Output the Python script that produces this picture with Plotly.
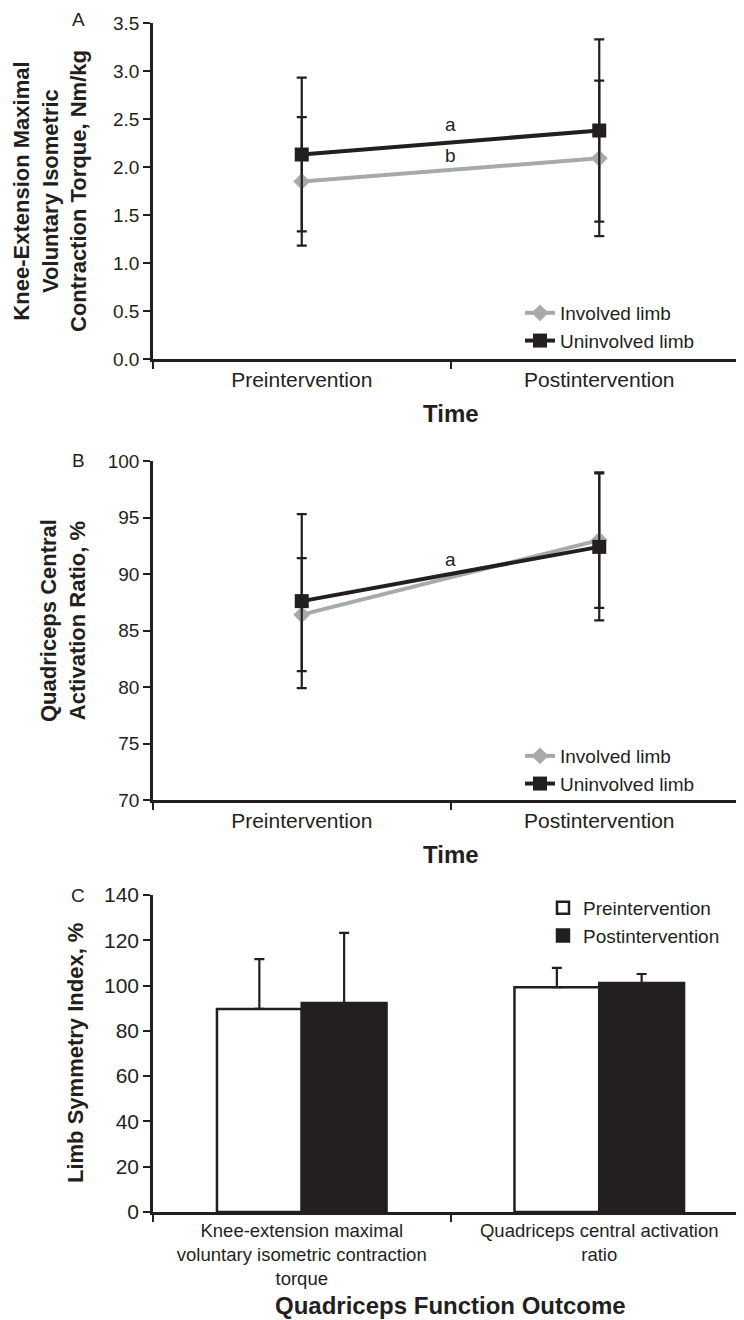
import plotly.graph_objects as go

# ---------------- data ----------------
time_points = ["Preintervention", "Postintervention"]

mvic_involved = [1.85, 2.09]
mvic_involved_sd = [0.67, 0.81]
mvic_uninvolved = [2.13, 2.38]
mvic_uninvolved_sd = [0.80, 0.95]

car_involved = [86.4, 93.0]
car_involved_sd = [5.0, 6.0]
car_uninvolved = [87.6, 92.4]
car_uninvolved_sd = [7.7, 6.5]

outcomes = ["Knee-extension maximal<br>voluntary isometric contraction<br>torque",
            "Quadriceps central activation<br>ratio"]
lsi_pre = [89.7, 99.3]
lsi_pre_sd = [22.0, 8.5]
lsi_post = [92.3, 101.1]
lsi_post_sd = [31.0, 4.0]

# ---------------- style ----------------
W, H = 744, 1320
BLACK = "#231F20"
GRAY = "#A7A9AC"
REG = "Liberation Sans, Arial, sans-serif"
NARROW = "Liberation Sans Narrow, Arial Narrow, Liberation Sans, sans-serif"

def px(x):
    return x / W

def py(y):
    return 1 - y / H

X0, X1 = 145, 740
xdom = [px(X0), px(X1)]
domA = [py(351), py(15)]
domB = [py(792), py(453)]
domC = [py(1204), py(887)]

fig = go.Figure()

def line_trace(y, sd, name, color, symbol, size, xa, ya, legend):
    return go.Scatter(
        x=time_points, y=y, name=name, mode="lines+markers",
        line=dict(color=color, width=4),
        marker=dict(symbol=symbol, size=size, color=color),
        error_y=dict(type="data", array=sd, visible=True, color=BLACK,
                     thickness=2.2, width=5),
        xaxis=xa, yaxis=ya, legend=legend, cliponaxis=False,
    )

# Panel A
fig.add_trace(line_trace(mvic_involved, mvic_involved_sd, "Involved limb", GRAY,
                         "diamond", 13, "x", "y", "legend"))
fig.add_trace(line_trace(mvic_uninvolved, mvic_uninvolved_sd, "Uninvolved limb", BLACK,
                         "square", 14, "x", "y", "legend"))
# Panel B
fig.add_trace(line_trace(car_involved, car_involved_sd, "Involved limb", GRAY,
                         "diamond", 13, "x2", "y2", "legend2"))
fig.add_trace(line_trace(car_uninvolved, car_uninvolved_sd, "Uninvolved limb", BLACK,
                         "square", 14, "x2", "y2", "legend2"))
# Panel C
fig.add_trace(go.Bar(
    x=outcomes, y=lsi_pre, name="Preintervention",
    marker=dict(color="white", line=dict(color=BLACK, width=2.5)),
    error_y=dict(type="data", symmetric=False, array=lsi_pre_sd,
                 arrayminus=[0, 0], color=BLACK, thickness=2.2, width=5),
    xaxis="x3", yaxis="y3", legend="legend3",
))
fig.add_trace(go.Bar(
    x=outcomes, y=lsi_post, name="Postintervention",
    marker=dict(color=BLACK, line=dict(color=BLACK, width=2.5)),
    error_y=dict(type="data", symmetric=False, array=lsi_post_sd,
                 arrayminus=[0, 0], color=BLACK, thickness=2.2, width=5),
    xaxis="x3", yaxis="y3", legend="legend3",
))

def xaxis_cfg(anchor, font):
    return dict(domain=xdom, anchor=anchor, type="category", range=[-0.5, 1.5],
                showline=True, linecolor=BLACK, linewidth=2.5,
                ticks="outside", tickson="boundaries", ticklen=7, tickwidth=2,
                tickcolor=BLACK, showgrid=False, zeroline=False,
                tickfont=font, automargin=False)

def yaxis_cfg(anchor, dom, rng, dtick, fmt, font):
    return dict(domain=dom, anchor=anchor, range=rng, dtick=dtick, tickformat=fmt,
                showline=True, linecolor=BLACK, linewidth=2.5,
                ticks="outside", ticklen=7, tickwidth=2, tickcolor=BLACK,
                showgrid=False, zeroline=False, tickfont=font, automargin=False)

cat_font = dict(family=NARROW, size=21, color=BLACK)
tick_font = dict(family=REG, size=19, color=BLACK)
leg_font = dict(family=NARROW, size=19, color=BLACK)

fig.update_layout(
    width=W, height=H, margin=dict(l=0, r=0, t=0, b=0),
    paper_bgcolor="white", plot_bgcolor="white",
    barmode="group", bargap=0.43, bargroupgap=0,
    xaxis=xaxis_cfg("y", cat_font),
    yaxis=yaxis_cfg("x", domA, [0, 3.5], 0.5, ".1f", tick_font),
    xaxis2=xaxis_cfg("y2", cat_font),
    yaxis2=yaxis_cfg("x2", domB, [70, 100], 5, "d", tick_font),
    xaxis3=xaxis_cfg("y3", dict(family=NARROW, size=18.5, color=BLACK)),
    yaxis3=yaxis_cfg("x3", domC, [0, 140], 20, "d",
                     dict(family=NARROW, size=21, color=BLACK)),
    legend=dict(x=px(512), y=py(286), xanchor="left", yanchor="top",
                bgcolor="rgba(0,0,0,0)", font=leg_font,
                itemwidth=30, tracegroupgap=0),
    legend2=dict(x=px(512), y=py(729), xanchor="left", yanchor="top",
                 bgcolor="rgba(0,0,0,0)", font=leg_font,
                 itemwidth=30, tracegroupgap=0),
    legend3=dict(x=px(535), y=py(881), xanchor="left", yanchor="top",
                 bgcolor="rgba(0,0,0,0)", font=leg_font,
                 itemwidth=30, tracegroupgap=0),
    showlegend=True,
)

ann = []
# panel letters
for letter, y in (("A", 12), ("B", 452), ("C", 887)):
    ann.append(dict(text=letter, x=px(70), y=py(y), xref="paper", yref="paper",
                    showarrow=False, xanchor="center", yanchor="middle",
                    font=dict(family=REG, size=19, color=BLACK)))
# y-axis titles
ytitle_font = dict(family=REG, size=22, color=BLACK)
ann.append(dict(text="<b>Knee-Extension Maximal<br>Voluntary Isometric<br>Contraction Torque, Nm/kg</b>",
                x=px(42), y=py(183), xref="paper", yref="paper", textangle=-90,
                showarrow=False, xanchor="center", yanchor="middle", font=ytitle_font))
ann.append(dict(text="<b>Quadriceps Central<br>Activation Ratio, %</b>",
                x=px(55), y=py(613), xref="paper", yref="paper", textangle=-90,
                showarrow=False, xanchor="center", yanchor="middle", font=ytitle_font))
ann.append(dict(text="<b>Limb Symmetry Index, %</b>",
                x=px(67), y=py(1045), xref="paper", yref="paper", textangle=-90,
                showarrow=False, xanchor="center", yanchor="middle", font=ytitle_font))
# x-axis titles
xtitle_font = dict(family=NARROW, size=24, color=BLACK)
for txt, y in (("<b>Time</b>", 405), ("<b>Time</b>", 846),
               ("<b>Quadriceps Function Outcome</b>", 1297)):
    ann.append(dict(text=txt, x=px((X0 + X1) / 2), y=py(y), xref="paper", yref="paper",
                    showarrow=False, xanchor="center", yanchor="middle", font=xtitle_font))
# significance letters
sig_font = dict(family=REG, size=19, color=BLACK)
ann.append(dict(text="a", x=0.5, y=2.44, xref="x", yref="y", showarrow=False, font=sig_font))
ann.append(dict(text="b", x=0.5, y=2.12, xref="x", yref="y", showarrow=False, font=sig_font))
ann.append(dict(text="a", x=0.5, y=91.3, xref="x2", yref="y2", showarrow=False, font=sig_font))

fig.update_layout(annotations=ann)

fig.write_html("out.html")
